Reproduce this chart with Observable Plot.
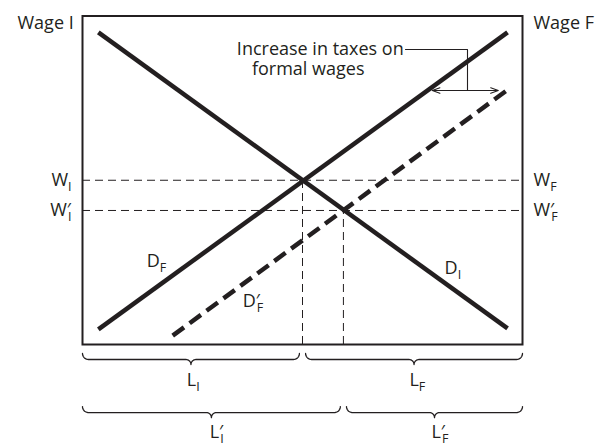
<!DOCTYPE html>
<html>
<head>
<meta charset="utf-8">
<script src="https://cdn.jsdelivr.net/npm/d3@7"></script>
<script src="https://cdn.jsdelivr.net/npm/@observablehq/plot@0.6"></script>
<style>
  html, body { margin: 0; padding: 0; background: #fff; }
  #chart svg { display: block; overflow: visible; }
</style>
</head>
<body>
<div id="chart"></div>
<script>
// ---- data (diagram units: labour 0–100, wage 0–100) ----
const demandInformal = [{x: 3.6, y: 95.0}, {x: 96.6, y: 4.9}];      // D_I
const demandFormal = [{x: 3.6, y: 4.6}, {x: 96.6, y: 95.0}];        // D_F
const demandFormalTaxed = [{x: 20.5, y: 2.7}, {x: 97.3, y: 78.2}];  // D'_F
const wageLevels = [50, 40.8];          // W, W'
const laborSplits = [50, 59.3];         // L_I | L_F boundary before / after
const braceRows = [-2.74, -18.9];       // top of each brace row
const labelRows = [-12.5, -28.5];       // baseline of brace labels
const axisLabels = ["Wage I", "Wage F"];
const taxNote = ["Increase in taxes on", "formal wages"];
const taxArrow = {x: 87.5, y: 77.3, left: 79.5, right: 94.5, top: 89.8, textEnd: 73.4};

const INK = "#231f20";
const pxX = 4.4, pxY = 3.285; // px per diagram unit (for brace curvature)

// curly brace between x0 and x1, opening up from yTop
function brace(x0, x1, yTop, id) {
  const rx = 6 / pxX, ry1 = 6 / pxY, rx2 = 5 / pxX, ry2 = 5 / pxY;
  const yFlat = yTop - ry1, yTip = yFlat - ry2;
  const m = (x0 + x1) / 2;
  const half = [];
  for (let a = 0; a <= 90; a += 10) {
    const t = a * Math.PI / 180;
    half.push({x: x0 + rx * (1 - Math.cos(t)), y: yFlat + ry1 * (1 - Math.sin(t))});
  }
  for (let a = 0; a <= 90; a += 10) {
    const t = a * Math.PI / 180;
    half.push({x: m - rx2 + rx2 * Math.sin(t), y: yTip + ry2 * Math.cos(t)});
  }
  const right = half.slice(0, -1).reverse().map(p => ({x: 2 * m - p.x, y: p.y}));
  return half.concat(right).map(p => ({...p, id}));
}

const gap = 0.7;
const braces = [
  ...brace(0, laborSplits[0] - gap, braceRows[0], "LI"),
  ...brace(laborSplits[0] + gap, 100, braceRows[0], "LF"),
  ...brace(0, laborSplits[1] - gap, braceRows[1], "LI2"),
  ...brace(laborSplits[1] + gap, 100, braceRows[1], "LF2")
];

const braceLabels = [
  {x: 23.7, y: labelRows[0], t: "L|I"},
  {x: 74.3, y: labelRows[0], t: "L|F"},
  {x: 28.9, y: labelRows[1], t: "L′|I"},
  {x: 79.3, y: labelRows[1], t: "L′|F"}
];
const leftLabels = [
  {x: -2.0, y: 95.9, t: axisLabels[0]},
  {x: -2.5, y: wageLevels[0] - 1.8, t: "W|I"},
  {x: -2.5, y: wageLevels[1] - 1.8, t: "W′|I"}
];
const rightLabels = [
  {x: 102.5, y: 96.0, t: axisLabels[1]},
  {x: 102.5, y: wageLevels[0] - 1.8, t: "W|F"},
  {x: 102.5, y: wageLevels[1] - 1.8, t: "W′|F"},
  {x: 14.6, y: 23.6, t: "D|F"},
  {x: 36.4, y: 11.3, t: "D′|F"},
  {x: 82.3, y: 21.6, t: "D|I"}
];

const chart = Plot.plot({
  width: 600,
  height: 443,
  marginLeft: 82,
  marginRight: 78,
  marginTop: 15.5,
  marginBottom: 99,
  x: {domain: [0, 100], axis: null},
  y: {domain: [0, 100], axis: null},
  style: {fontFamily: "'Open Sans', sans-serif", fontSize: "18px", color: INK, background: "#fff", overflow: "visible"},
  marks: [
    Plot.ruleY(wageLevels, {stroke: INK, strokeWidth: 1, strokeDasharray: "8,5"}),
    Plot.ruleX(laborSplits.map((x, i) => ({x, y: wageLevels[i]})), {x: "x", y1: 0, y2: "y", stroke: INK, strokeWidth: 1, strokeDasharray: "8,5"}),
    Plot.line(demandInformal, {x: "x", y: "y", stroke: INK, strokeWidth: 4.5, strokeLinecap: "butt"}),
    Plot.line(demandFormal, {x: "x", y: "y", stroke: INK, strokeWidth: 4.5, strokeLinecap: "butt"}),
    Plot.line(demandFormalTaxed, {x: "x", y: "y", stroke: INK, strokeWidth: 4.5, strokeLinecap: "butt", strokeDasharray: "14,7"}),
    Plot.frame({stroke: INK, strokeWidth: 2}),
    Plot.line([{x: taxArrow.textEnd, y: taxArrow.top}, {x: taxArrow.x, y: taxArrow.top}, {x: taxArrow.x, y: taxArrow.y}],
      {x: "x", y: "y", stroke: INK, strokeWidth: 1.1}),
    Plot.arrow([{x1: taxArrow.x, x2: taxArrow.left}, {x1: taxArrow.x, x2: taxArrow.right}],
      {x1: "x1", x2: "x2", y1: taxArrow.y, y2: taxArrow.y, stroke: INK, strokeWidth: 1.1, headLength: 11, headAngle: 40}),
    Plot.line(braces, {x: "x", y: "y", z: "id", stroke: INK, strokeWidth: 1.3}),
    Plot.text([taxNote[0]], {x: 73.0, y: 88.1, text: d => d, textAnchor: "end", lineAnchor: "bottom", fill: INK, fontSize: 18}),
    Plot.text([taxNote[1]], {x: 51.3, y: 82.0, text: d => d, textAnchor: "middle", lineAnchor: "bottom", fill: INK, fontSize: 18}),
    Plot.text(leftLabels, {x: "x", y: "y", text: "t", textAnchor: "end", lineAnchor: "bottom", fill: INK, fontSize: 18}),
    Plot.text(rightLabels, {x: "x", y: "y", text: "t", textAnchor: "start", lineAnchor: "bottom", fill: INK, fontSize: 18}),
    Plot.text(braceLabels, {x: "x", y: "y", text: "t", textAnchor: "start", lineAnchor: "bottom", fill: INK, fontSize: 18})
  ]
});

// turn "Main|sub" labels into main text + subscript tspans
chart.querySelectorAll("text").forEach(el => {
  const s = el.textContent;
  if (!s.includes("|")) return;
  const [main, sub] = s.split("|");
  while (el.firstChild) el.removeChild(el.firstChild);
  const ns = "http://www.w3.org/2000/svg";
  const t1 = document.createElementNS(ns, "tspan");
  t1.textContent = main;
  const t2 = document.createElementNS(ns, "tspan");
  t2.textContent = sub;
  t2.setAttribute("font-size", "12.5");
  t2.setAttribute("dy", "5");
  if (main.includes("′")) t2.setAttribute("dx", "-3");
  el.appendChild(t1);
  el.appendChild(t2);
});

document.getElementById("chart").appendChild(chart);
</script>
</body>
</html>
